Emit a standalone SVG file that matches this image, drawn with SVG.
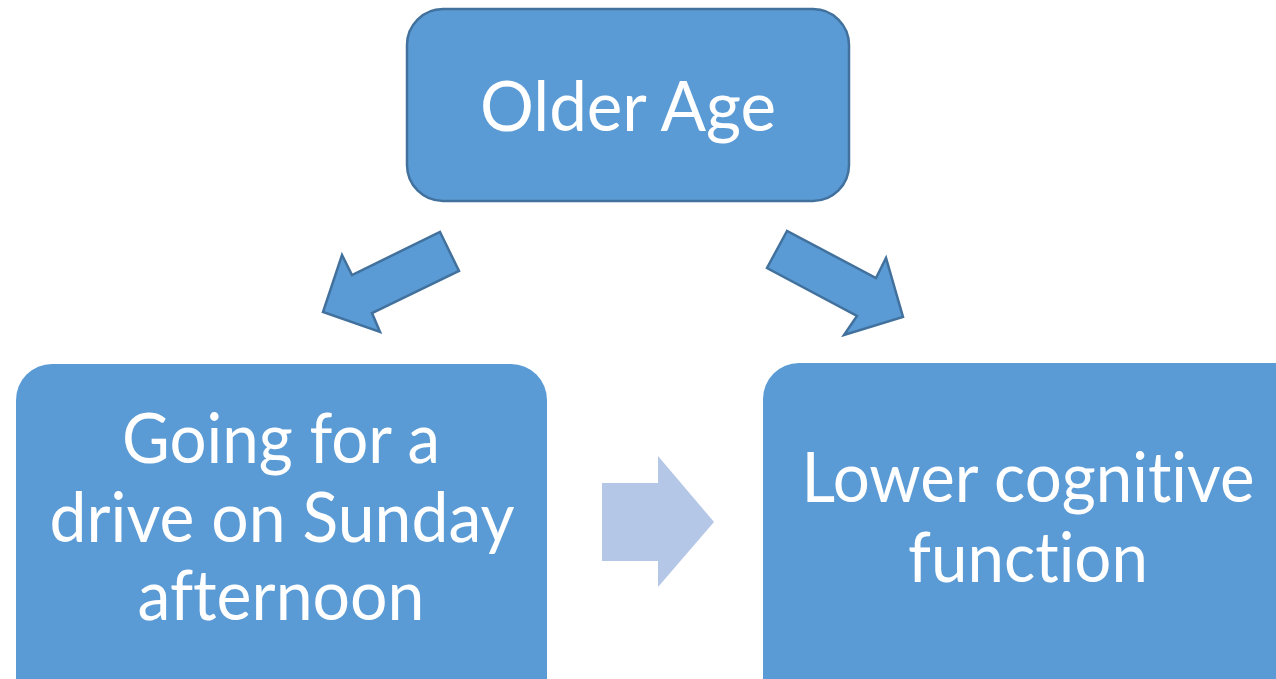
<svg xmlns="http://www.w3.org/2000/svg" width="1276" height="679" viewBox="0 0 1276 679">
<style>
.box{fill:#5B9BD5;}
.top{stroke:#41719C;stroke-width:2.5;}
.arr{fill:#5B9BD5;stroke:#41719C;stroke-width:2.5;stroke-linejoin:miter;}
.lt{fill:#B4C7E7;}
.t{font-family:Lato,"Open Sans",sans-serif;fill:#FFFFFF;font-size:70px;text-anchor:middle;font-variant-ligatures:none;font-feature-settings:"liga" 0;}
</style>
<rect width="1276" height="679" fill="#FFFFFF"/>
<g id="node-older-age">
<rect class="box top" x="407" y="9" width="442" height="192" rx="36" ry="36"/>
<text class="t" x="628" y="131" textLength="296" lengthAdjust="spacingAndGlyphs">Older Age</text>
</g>
<g id="node-drive">
<rect class="box" x="16" y="364" width="531" height="360" rx="36" ry="36"/>
<text class="t" x="281" y="463" textLength="318" lengthAdjust="spacingAndGlyphs">Going for a</text>
<text class="t" x="282" y="542" textLength="465" lengthAdjust="spacingAndGlyphs">drive on Sunday</text>
<text class="t" x="281" y="620" textLength="287" lengthAdjust="spacingAndGlyphs">afternoon</text>
</g>
<g id="node-cognitive">
<rect class="box" x="763" y="363" width="560" height="360" rx="36" ry="36"/>
<text class="t" x="1028" y="502" textLength="453" lengthAdjust="spacingAndGlyphs">Lower cognitive</text>
<text class="t" x="1028" y="582" textLength="240" lengthAdjust="spacingAndGlyphs">function</text>
</g>
<g id="connectors">
<polygon class="arr" points="440,232 459,271 372,313 380,332 323,312 342,255 352,275"/>
<polygon class="arr" points="787,231 767,268 857,316 844,335 903,317 886,258 876,278"/>
<polygon class="lt" points="602,483 658,483 658,456 714,522 658,587 658,561 602,561"/>
</g>
</svg>
